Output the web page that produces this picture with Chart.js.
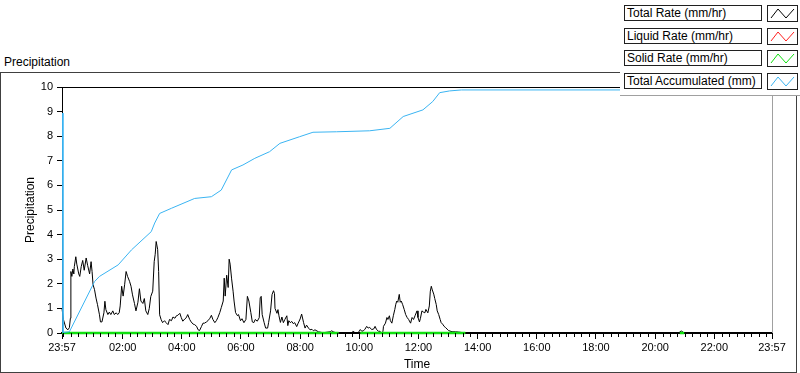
<!DOCTYPE html>
<html>
<head>
<meta charset="utf-8">
<script src="https://cdn.jsdelivr.net/npm/chart.js@4.4.0/dist/chart.umd.min.js"></script>
<style>
  html, body { margin: 0; padding: 0; background: #fff; }
  #wrap { position: relative; width: 800px; height: 373px; overflow: hidden; font-family: "Liberation Sans", Arial, sans-serif; color: #000; }
  #frame { position: absolute; left: 0; top: 72px; width: 795px; height: 299px; border: 1px solid #404040; }
  #graphTitle { position: absolute; left: 4px; top: 55px; font-size: 12px; line-height: 14px; }
  #chart { position: absolute; left: 0; top: 0; }
  #legend { position: absolute; left: 620px; top: 0; width: 180px; height: 95px; background: #fff; border-bottom: 1px solid #a0a0a0; }
  .lg-text { position: absolute; left: 4px; width: 138px; height: 16px; box-sizing: border-box; border: 1px solid #202020; font-size: 12px; line-height: 14px; padding-left: 2px; white-space: nowrap; background: #fff; }
  .lg-icon { position: absolute; left: 147px; width: 31px; height: 17px; box-sizing: border-box; border: 1px solid #202020; background: #fff; }
  .lg-icon svg { display: block; }
</style>
</head>
<body>
<div id="wrap">
  <div id="frame"></div>
  <div id="graphTitle">Precipitation</div>
  <canvas id="chart" width="800" height="373"></canvas>
  <div id="legend"></div>
</div>
<script>
// x values are minutes after 23:57 (start of the 24 h window)
const seriesNames = ['Total Rate (mm/hr)', 'Liquid Rate (mm/hr)', 'Solid Rate (mm/hr)', 'Total Accumulated (mm)'];
const seriesColors = ['#000000', '#ff2020', '#10e010', '#3ab4f2'];

const xTickMinutes = [0, 123, 243, 363, 483, 603, 723, 843, 963, 1083, 1203, 1323, 1440];
const xTickLabels = ['23:57', '02:00', '04:00', '06:00', '08:00', '10:00', '12:00', '14:00', '16:00', '18:00', '20:00', '22:00', '23:57'];

const totalRate = [
  [0,1.0],[3,0.54],[8,0.2],[12,0.13],[15,0.22],[17,0.6],[18,2.5],[20,2.3],[22,2.6],[24,2.4],[25,2.7],[28,3.1],
  [30,2.8],[34,2.4],[36,2.3],[39,2.7],[42,2.95],[45,2.55],[49,3.05],[52,2.75],[56,2.4],[59,2.9],[61,2.5],[63,1.96],
  [66,1.76],[69,1.42],[72,1.15],[76,0.74],[78,0.45],[81,0.45],[85,0.82],[87,1.29],[89,0.95],[93,0.75],[96,0.85],
  [99,0.75],[103,0.9],[106,0.75],[110,0.82],[113,0.75],[116,0.82],[118,1.1],[121,1.9],[124,1.5],[127,1.96],[130,2.5],
  [133,2.3],[137,2.1],[140,1.9],[143,1.55],[147,1.2],[150,0.9],[154,1.25],[157,1.8],[160,1.3],[164,1.2],[167,1.4],
  [170,0.9],[174,0.75],[177,1.0],[180,1.48],[184,1.7],[187,2.9],[189,3.2],[191,3.72],[194,3.4],[196,2.5],[198,0.74],
  [201,0.55],[204,0.42],[208,0.5],[211,0.42],[215,0.34],[218,0.55],[222,0.5],[225,0.65],[229,0.6],[232,0.7],
  [235,0.72],[239,0.8],[242,0.62],[245,0.48],[249,0.57],[252,0.62],[255,0.75],[259,0.55],[262,0.45],[266,0.36],
  [269,0.34],[273,0.27],[276,0.13],[279,0.1],[283,0.27],[286,0.4],[289,0.4],[293,0.45],[296,0.5],[300,0.6],
  [303,0.72],[306,0.55],[310,0.42],[313,0.5],[316,0.62],[320,0.83],[323,1.03],[327,1.3],[329,2.23],[331,1.5],
  [334,2.35],[337,1.85],[339,3.0],[341,2.8],[344,2.2],[347,1.7],[349,1.3],[352,0.83],[356,0.7],[358,0.75],[362,0.5],
  [365,0.58],[369,0.42],[373,0.55],[376,1.49],[379,1.3],[383,0.83],[386,0.45],[389,0.42],[392,0.55],[396,0.48],
  [400,0.62],[402,1.43],[404,1.49],[406,0.75],[410,0.42],[413,0.2],[417,0.2],[419,0.42],[423,0.9],[426,1.56],
  [429,1.72],[431,1.6],[432,1.0],[436,0.8],[438,0.95],[440,0.7],[443,0.43],[446,0.65],[449,0.42],[452,0.55],[456,0.7],
  [458,0.3],[460,0.5],[463,0.42],[466,0.47],[469,0.38],[472,0.42],[476,0.26],[479,0.4],[483,0.57],[486,0.77],
  [490,0.42],[493,0.2],[496,0.32],[500,0.2],[503,0.13],[507,0.15],[510,0.09],[513,0.13],[520,0.05],[527,0.02],
  [533,0.02],[544,0.05],[547,0.09],[550,0.05],[554,0.02],[561,0],[588,0],[590,0.07],[594,0.02],[601,0.02],[605,0.14],
  [608,0.07],[611,0.09],[614,0.14],[618,0.27],[621,0.2],[624,0.23],[628,0.14],[632,0.16],[635,0.27],[638,0.14],
  [642,0.07],[645,0.07],[648,0],[651,0.07],[652,0.27],[656,0.4],[659,0.63],[661,0.55],[664,0.7],[666,0.5],[669,0.4],
  [672,0.7],[675,0.96],[677,1.17],[679,1.3],[681,1.25],[684,1.57],[686,1.25],[688,1.3],[691,1.15],[694,0.96],
  [697,0.75],[700,0.63],[703,0.55],[707,0.4],[710,0.63],[713,0.55],[716,0.7],[720,0.9],[722,0.63],[725,0.45],
  [727,0.6],[730,0.9],[733,0.85],[736,0.82],[738,0.96],[742,0.82],[745,1.1],[747,1.7],[749,1.9],[751,1.75],[754,1.58],
  [756,1.4],[759,1.16],[761,0.9],[764,0.75],[767,0.55],[769,0.42],[772,0.36],[775,0.27],[778,0.22],[781,0.16],
  [784,0.1],[791,0.05],[798,0.05],[804,0.04],[811,0.02],[818,0.02],[825,0],[1251,0],[1253,0.05],[1256,0.08],
  [1259,0.05],[1261,0],[1440,0]
];

const liquidRate = [[0,0],[561,0],[583,null],[605,0],[818,0]];

const solidRate = [[0,0],[561,0],[583,null],[605,0],[818,0],[1000,null],[1253,0],[1262,0]];

const totalAccumulated = [
  [1,8.94],[2,0.02],[15,0.05],[66,2.09],[76,2.3],[114,2.77],[141,3.38],[181,4.12],[188,4.47],[198,4.86],[222,5.07],
  [269,5.47],[303,5.54],[323,5.81],[344,6.63],[367,6.83],[391,7.1],[421,7.37],[442,7.71],[482,7.98],[509,8.16],
  [557,8.18],[624,8.22],[665,8.32],[692,8.8],[732,9.07],[752,9.41],[766,9.77],[786,9.84],[810,9.88],[1440,9.88]
];

// minor ticks every 15 minutes of clock time (00:00 is 3 min after start)
const minorTicks = [];
for (let m = 3; m < 1440; m += 15) {
    if (!xTickMinutes.includes(m)) minorTicks.push(m);
}

// build the html legend
const legendEl = document.getElementById('legend');
const legendTops = [5, 28, 50, 73];
seriesNames.forEach(function (name, i) {
    const t = document.createElement('div');
    t.className = 'lg-text';
    t.style.top = legendTops[i] + 'px';
    t.textContent = name;
    legendEl.appendChild(t);
    const ic = document.createElement('div');
    ic.className = 'lg-icon';
    ic.style.top = legendTops[i] + 'px';
    ic.innerHTML = '<svg width="29" height="15"><polyline points="3,12 10,3 18,12 26,3" fill="none" stroke="' + seriesColors[i] + '" stroke-width="1"/></svg>';
    legendEl.appendChild(ic);
});

function toPoints(arr) {
    return arr.map(p => ({ x: p[0], y: p[1] }));
}

// top / right plot frame and the short minor ticks on the time axis
const plotExtras = {
    id: 'plotExtras',
    afterDraw(chart) {
        const { ctx, chartArea: a, scales: { x } } = chart;
        ctx.save();
        ctx.lineWidth = 1;
        ctx.strokeStyle = '#000';
        ctx.beginPath();
        ctx.moveTo(a.left, a.top + 0.5);
        ctx.lineTo(a.right, a.top + 0.5);
        ctx.stroke();
        ctx.strokeStyle = '#a0a0a0';
        ctx.beginPath();
        ctx.moveTo(a.right + 0.5, a.top);
        ctx.lineTo(a.right + 0.5, a.bottom);
        ctx.stroke();
        ctx.strokeStyle = '#000';
        ctx.beginPath();
        minorTicks.forEach(function (m) {
            const px = Math.round(x.getPixelForValue(m)) + 0.5;
            ctx.moveTo(px, a.bottom);
            ctx.lineTo(px, a.bottom + 4);
        });
        ctx.stroke();
        ctx.restore();
    }
};

const ctx = document.getElementById('chart').getContext('2d');
const precipChart = new Chart(ctx, {
    type: 'line',
    data: {
        datasets: [
            { label: seriesNames[3], data: toPoints(totalAccumulated), borderColor: seriesColors[3], borderWidth: 1, order: 0 },
            { label: seriesNames[2], data: toPoints(solidRate), borderColor: seriesColors[2], borderWidth: 2.5, order: 1, clip: false },
            { label: seriesNames[1], data: toPoints(liquidRate), borderColor: seriesColors[1], borderWidth: 1, order: 2 },
            { label: seriesNames[0], data: toPoints(totalRate), borderColor: seriesColors[0], borderWidth: 1, order: 3, clip: false }
        ]
    },
    options: {
        responsive: false,
        animation: false,
        devicePixelRatio: 1,
        spanGaps: false,
        elements: {
            point: { radius: 0 },
            line: { tension: 0, fill: false }
        },
        layout: { padding: { left: 0, top: 87, right: 28, bottom: 0 } },
        plugins: {
            legend: { display: false },
            tooltip: { enabled: false }
        },
        scales: {
            x: {
                type: 'linear',
                min: 0,
                max: 1440,
                afterFit: function (scale) { scale.height = 40; },
                afterBuildTicks: function (scale) {
                    scale.ticks = xTickMinutes.map(v => ({ value: v }));
                },
                grid: { drawOnChartArea: false, color: '#000', tickLength: 6 },
                border: { color: '#000', width: 2 },
                ticks: {
                    autoSkip: false,
                    maxRotation: 0,
                    padding: 2,
                    color: '#000',
                    font: { family: 'Liberation Sans', size: 11 },
                    callback: function (value, index) { return xTickLabels[index]; }
                },
                title: {
                    display: true,
                    text: 'Time',
                    color: '#000',
                    font: { family: 'Liberation Sans', size: 12 },
                    padding: { top: 0, bottom: 1 }
                }
            },
            y: {
                min: 0,
                max: 10,
                afterFit: function (scale) { scale.width = 62; },
                grid: { drawOnChartArea: false, color: '#000', tickLength: 5 },
                border: { color: '#000' },
                ticks: {
                    stepSize: 1,
                    padding: 4,
                    color: '#000',
                    font: { family: 'Liberation Sans', size: 11 }
                },
                title: {
                    display: true,
                    text: 'Precipitation',
                    color: '#000',
                    font: { family: 'Liberation Sans', size: 12 },
                    padding: { top: 23, bottom: 0 }
                }
            }
        }
    },
    plugins: [plotExtras]
});
</script>
</body>
</html>
